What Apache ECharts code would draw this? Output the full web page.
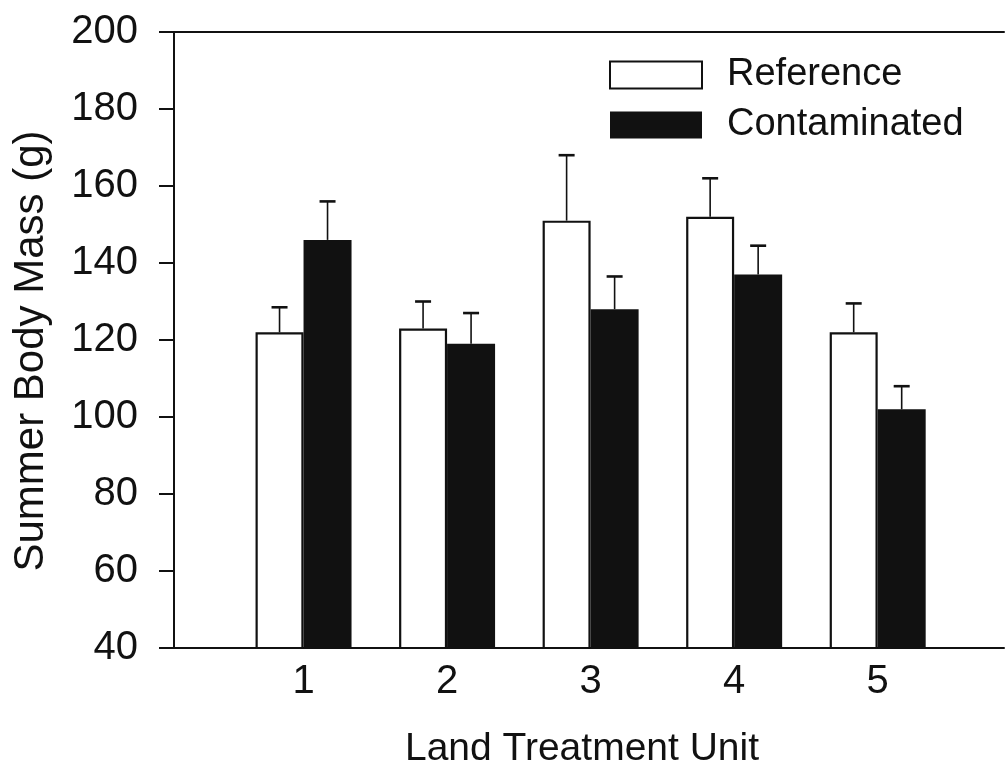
<!DOCTYPE html>
<html>
<head>
<meta charset="utf-8">
<script src="https://cdn.jsdelivr.net/npm/echarts@6/dist/echarts.min.js"></script>
<style>html,body{margin:0;padding:0;background:#fff}#c{width:1007px;height:778px}</style>
</head>
<body>
<div id="c"></div>
<script>
const units = [1, 2, 3, 4, 5];
const unitLabels = ['1', '2', '3', '4', '5'];
const referenceMass = [122, 123, 151, 152, 122];
const referenceErr = [6.5, 7, 17, 10, 7.5];
const contaminatedMass = [146, 119, 128, 137, 102];
const contaminatedErr = [10, 8, 8.5, 7.5, 6];
const yTicks = [40, 60, 80, 100, 120, 140, 160, 180, 200];

const INK = '#111';
const FONT = 'Liberation Sans, Arial, sans-serif';

function pairs(vals) { return units.map((u, i) => [u, vals[i]]); }
function triples(vals, errs) { return units.map((u, i) => [u, vals[i], errs[i]]); }

function errorBar(offsetPx) {
  return function (params, api) {
    const x = api.value(0), v = api.value(1), e = api.value(2);
    const p0 = api.coord([x, v]);
    const p1 = api.coord([x, v + e]);
    const cx = p0[0] + offsetPx;
    return {
      type: 'group',
      children: [
        { type: 'line', shape: { x1: cx, y1: p0[1], x2: cx, y2: p1[1] }, style: { stroke: INK, lineWidth: 1.6 } },
        { type: 'line', shape: { x1: cx - 8, y1: p1[1], x2: cx + 8, y2: p1[1] }, style: { stroke: INK, lineWidth: 2.6 } }
      ]
    };
  };
}

const chart = echarts.init(document.getElementById('c'));
chart.setOption({
  animation: false,
  backgroundColor: '#fff',
  grid: { left: 160, right: 0, top: 32, bottom: 130, containLabel: false },
  legend: {
    orient: 'vertical', left: 604, top: 50,
    itemWidth: 92, itemHeight: 27, itemGap: 10,
    textStyle: { fontFamily: FONT, fontSize: 38, color: INK, padding: [0, 0, 0, 20], lineHeight: 40 },
    data: [
      { name: 'Reference', icon: 'rect', itemStyle: { color: '#fff', borderColor: INK, borderWidth: 2 } },
      { name: 'Contaminated', icon: 'rect', itemStyle: { color: INK, borderColor: INK, borderWidth: 0 } }
    ]
  },
  xAxis: [{
    type: 'value', min: 0, max: 5.88, interval: 1,
    name: 'Land Treatment Unit', nameLocation: 'middle', nameGap: 82,
    nameTextStyle: { fontFamily: FONT, fontSize: 39, color: INK },
    axisLine: { show: true, lineStyle: { color: INK, width: 2 } },
    axisTick: { show: false },
    splitLine: { show: false },
    axisLabel: {
      fontFamily: FONT, fontSize: 40, color: INK, margin: 14,
      formatter: function (v) { const i = units.indexOf(v); return i >= 0 ? unitLabels[i] : ''; }
    }
  }, {
    type: 'value', position: 'top', min: 0, max: 5.88,
    axisLine: { show: true, lineStyle: { color: INK, width: 2 } },
    axisTick: { show: false }, axisLabel: { show: false }, splitLine: { show: false }
  }],
  yAxis: {
    type: 'value', min: 40, max: 200, interval: 20, offset: -14,
    name: 'Summer Body Mass (g)', nameLocation: 'middle', nameGap: 122,
    nameTextStyle: { fontFamily: FONT, fontSize: 42, color: INK, padding: [0, 22, 0, 0] },
    axisLine: { show: true, lineStyle: { color: INK, width: 2 } },
    axisTick: { show: true, inside: false, length: 15, lineStyle: { color: INK, width: 2 } },
    splitLine: { show: false },
    axisLabel: {
      fontFamily: FONT, fontSize: 40, color: INK, margin: 36,
      formatter: function (v) { return yTicks.indexOf(v) >= 0 ? String(v) : ''; }
    }
  },
  series: [
    {
      name: 'Reference', type: 'bar', barWidth: 48, barGap: '0%',
      itemStyle: { color: '#fff', borderColor: INK, borderWidth: 2.2 },
      data: pairs(referenceMass), z: 2
    },
    {
      name: 'Contaminated', type: 'bar', barWidth: 48, barGap: '0%',
      itemStyle: { color: INK, borderColor: INK, borderWidth: 0 },
      data: pairs(contaminatedMass), z: 2
    },
    {
      name: 'Reference err', type: 'custom', renderItem: errorBar(-24),
      encode: { x: 0, y: 1 }, data: triples(referenceMass, referenceErr), z: 3
    },
    {
      name: 'Contaminated err', type: 'custom', renderItem: errorBar(24),
      encode: { x: 0, y: 1 }, data: triples(contaminatedMass, contaminatedErr), z: 3
    }
  ]
});
</script>
</body>
</html>
